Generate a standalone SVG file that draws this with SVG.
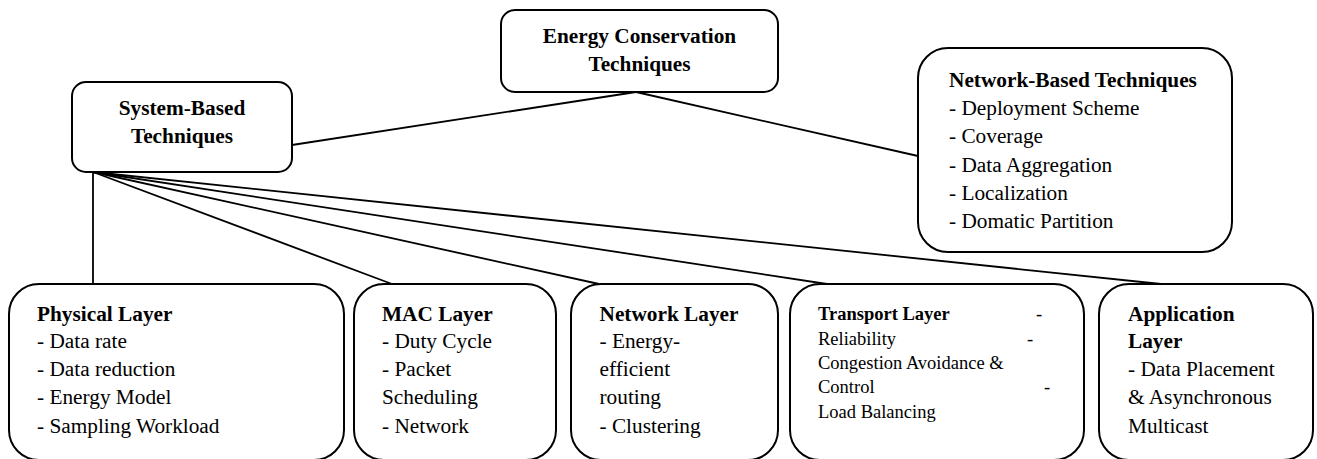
<svg xmlns="http://www.w3.org/2000/svg" width="1317" height="459" viewBox="0 0 1317 459">
  <style>
    .box { fill: #ffffff; stroke: #000000; stroke-width: 2; }
    .link { fill: none; stroke: #000000; stroke-width: 1.8; }
    .t { font-size: 21.3px; font-weight: bold; }
    .i { font-size: 21.3px; }
    .mid { text-anchor: middle; }
    .tt { font-size: 18.5px; font-weight: bold; }
    .ti { font-size: 18.5px; }
  </style>
  <rect x="0" y="0" width="1317" height="459" fill="#ffffff"/>

  <!-- connectors -->
  <g id="connectors">
    <path class="link" d="M292,145 L636,92"/>
    <path class="link" d="M636,92 L918,156"/>
    <path class="link" d="M93,172 L93,284"/>
    <path class="link" d="M93,172 L392,284"/>
    <path class="link" d="M93,172 L599,284"/>
    <path class="link" d="M93,172 L827,284"/>
    <path class="link" d="M93,172 L1161,284"/>
  </g>

  <g id="nodes" font-family="Liberation Serif, serif" fill="#000000">
    <!-- root -->
    <g id="energy-conservation">
      <rect class="box" x="501" y="10" width="277" height="82" rx="14"/>
      <text class="t mid" x="639.5" y="43">Energy Conservation</text>
      <text class="t mid" x="639.5" y="71">Techniques</text>
    </g>

    <g id="system-based">
      <rect class="box" x="72" y="82" width="220" height="90" rx="14"/>
      <text class="t mid" x="182" y="115">System-Based</text>
      <text class="t mid" x="182" y="143">Techniques</text>
    </g>

    <g id="network-based">
      <rect class="box" x="918" y="48" width="314" height="204" rx="30"/>
      <text class="t" x="949" y="87">Network-Based Techniques</text>
      <text class="i" x="949" y="115">- Deployment Scheme</text>
      <text class="i" x="949" y="143">- Coverage</text>
      <text class="i" x="949" y="172">- Data Aggregation</text>
      <text class="i" x="949" y="200">- Localization</text>
      <text class="i" x="949" y="228">- Domatic Partition</text>
    </g>

    <!-- layers -->
    <g id="physical-layer">
      <rect class="box" x="9" y="284" width="335" height="176" rx="30"/>
      <text class="t" x="37" y="321">Physical Layer</text>
      <text class="i" x="37" y="348">- Data rate</text>
      <text class="i" x="37" y="376">- Data reduction</text>
      <text class="i" x="37" y="404">- Energy Model</text>
      <text class="i" x="37" y="433">- Sampling Workload</text>
    </g>

    <g id="mac-layer">
      <rect class="box" x="354" y="284" width="202" height="176" rx="30"/>
      <text class="t" x="382" y="321">MAC Layer</text>
      <text class="i" x="382" y="348">- Duty Cycle</text>
      <text class="i" x="382" y="376">- Packet</text>
      <text class="i" x="382" y="404">Scheduling</text>
      <text class="i" x="382" y="433">- Network</text>
    </g>

    <g id="network-layer">
      <rect class="box" x="571" y="284" width="207" height="176" rx="30"/>
      <text class="t" x="599.5" y="321">Network Layer</text>
      <text class="i" x="599.5" y="348">- Energy-</text>
      <text class="i" x="599.5" y="376">efficient</text>
      <text class="i" x="599.5" y="404">routing</text>
      <text class="i" x="599.5" y="433">- Clustering</text>
    </g>

    <g id="transport-layer">
      <rect class="box" x="790" y="284" width="294" height="176" rx="30"/>
      <text class="tt" x="818" y="320">Transport Layer</text>
      <text class="ti" x="1036" y="320">-</text>
      <text class="ti" x="818" y="345">Reliability</text>
      <text class="ti" x="1027" y="345">-</text>
      <text class="ti" x="818" y="369">Congestion Avoidance &amp;</text>
      <text class="ti" x="818" y="393">Control</text>
      <text class="ti" x="1044" y="393">-</text>
      <text class="ti" x="818" y="418">Load Balancing</text>
    </g>

    <g id="application-layer">
      <rect class="box" x="1099" y="284" width="214" height="176" rx="30"/>
      <text class="t" x="1128" y="321">Application</text>
      <text class="t" x="1128" y="348">Layer</text>
      <text class="i" x="1128" y="376">- Data Placement</text>
      <text class="i" x="1128" y="404">&amp; Asynchronous</text>
      <text class="i" x="1128" y="433">Multicast</text>
    </g>
  </g>
</svg>
